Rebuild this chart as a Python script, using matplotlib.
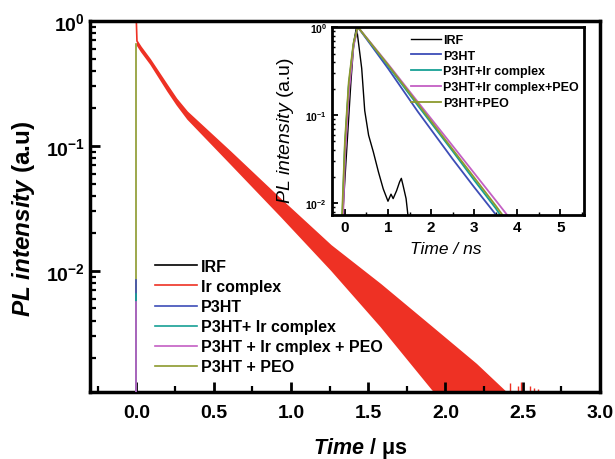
import numpy as np
import matplotlib
matplotlib.use('Agg')
import matplotlib.pyplot as plt
from matplotlib.ticker import FixedLocator, MultipleLocator, LogLocator, NullFormatter, FuncFormatter

plt.rcParams['font.family'] = ['Liberation Sans', 'DejaVu Sans']
plt.rcParams['mathtext.fontset'] = 'custom'
plt.rcParams['mathtext.rm'] = 'Liberation Sans'
plt.rcParams['mathtext.it'] = 'Liberation Sans:italic'
plt.rcParams['mathtext.bf'] = 'Liberation Sans:bold'
plt.rcParams['mathtext.bfit'] = 'Liberation Sans:bold:italic'

# main panel: Ir complex decay (us), read as upper / lower edge of the noisy band (log10)
redTime = [0.0, 0.004, 0.03, 0.09, 0.2, 0.26, 0.33, 0.61, 0.935, 1.26, 1.58, 1.91, 2.2, 2.5]
redUpperLog = [0.0, -0.16, -0.21, -0.31, -0.515, -0.625, -0.73, -1.05, -1.43, -1.80, -2.11, -2.45, -2.75, -3.1]
redLowerLog = [-0.02, -0.20, -0.25, -0.35, -0.565, -0.675, -0.79, -1.15, -1.57, -2.00, -2.45, -2.95, -3.35, -3.7]
# isolated spikes in the tail
redSpikeTime = [2.42, 2.47, 2.49, 2.55, 2.57, 2.6]
redSpikeLog = [-2.90, -2.92, -2.89, -2.92, -2.94, -2.95]

# the other samples decay within ns, so on the us scale they are vertical lines at t=0
seriesLabels = ['IRF', 'P3HT', 'P3HT+ Ir complex', 'P3HT + Ir cmplex + PEO', 'P3HT + PEO']
seriesColors = ['black', '#3d4db7', '#17a095', '#c45fc4', '#8c9a2d']
spikeTop = [1.5e-3, 8.5e-3, 6.5e-3, 5.6e-3, 0.65]
redColor = '#ee3124'

# inset (ns)
irfTime = [-0.07, 0.02, 0.14, 0.21, 0.27, 0.39, 0.46, 0.55, 0.66, 0.78, 0.89, 1.0, 1.07, 1.12, 1.2, 1.27, 1.31, 1.35, 1.42, 1.5]
irfLog = [-2.3, -1.57, -0.62, -0.16, 0.0, -0.47, -0.95, -1.23, -1.42, -1.65, -1.84, -1.98, -1.90, -1.95, -1.86, -1.76, -1.72, -1.80, -1.95, -2.3]
insetTime = [-0.07, 0.0, 0.09, 0.2, 0.3, 1.0, 1.69, 2.5, 3.0, 3.5, 3.9]
insetLabels = ['P3HT', 'P3HT+Ir complex', 'P3HT+Ir complex+PEO', 'P3HT+PEO']
insetLogs = [
    [-2.4, -1.4, -0.68, -0.2, 0.0, -0.47, -0.96, -1.50, -1.82, -2.13, -2.45],
    [-2.3, -1.35, -0.66, -0.2, 0.0, -0.44, -0.89, -1.41, -1.74, -2.06, -2.35],
    [-2.6, -1.5, -0.75, -0.22, 0.0, -0.42, -0.85, -1.35, -1.66, -1.97, -2.22],
    [-2.2, -1.3, -0.62, -0.18, 0.0, -0.43, -0.87, -1.39, -1.71, -2.03, -2.30],
]
insetColors = ['#3d4db7', '#17a095', '#c45fc4', '#8c9a2d']


def boldPow(val, pos):
    return r'$\mathbf{10^{%d}}$' % int(round(np.log10(val)))


def styleAxes(ax, spineWidth, majLen, minLen, tickWidth):
    for s in ax.spines.values():
        s.set_linewidth(spineWidth)
    ax.tick_params(which='major', direction='in', length=majLen, width=tickWidth, top=False, right=False)
    ax.tick_params(which='minor', direction='in', length=minLen, width=tickWidth * 0.8, top=False, right=False)


fig = plt.figure(figsize=(6.15, 4.6), dpi=100)
ax = fig.add_axes([0.1463, 0.1457, 0.8293, 0.8065])

# main panel
yBottom = 10 ** -2.97
ax.plot([0, 0], [yBottom, spikeTop[0]], color=seriesColors[0], lw=1.2, label=seriesLabels[0])
ax.plot(redTime, np.power(10.0, redUpperLog), color=redColor, lw=1.2, label='Ir complex')
ax.fill_between(redTime, np.power(10.0, redUpperLog), np.power(10.0, redLowerLog), color=redColor, lw=0)
ax.vlines(redSpikeTime, yBottom, np.power(10.0, redSpikeLog), color=redColor, lw=1.0)
for lab, col, top in zip(seriesLabels[1:], seriesColors[1:], spikeTop[1:]):
    ax.plot([0, 0], [yBottom, top], color=col, lw=1.2, label=lab, zorder=3 if lab != 'P3HT + PEO' else 2)

ax.set_yscale('log')
ax.set_xlim(-0.3, 3.0)
ax.set_ylim(yBottom, 1.0)
ax.xaxis.set_major_locator(FixedLocator([0.0, 0.5, 1.0, 1.5, 2.0, 2.5, 3.0]))
ax.xaxis.set_minor_locator(MultipleLocator(0.25))
ax.xaxis.set_major_formatter(FuncFormatter(lambda v, p: '%.1f' % v))
ax.yaxis.set_major_locator(FixedLocator([1e-2, 1e-1, 1.0]))
ax.yaxis.set_minor_locator(LogLocator(base=10, subs=np.arange(2, 10)))
ax.yaxis.set_major_formatter(FuncFormatter(boldPow))
ax.yaxis.set_minor_formatter(NullFormatter())
styleAxes(ax, 2.5, 7, 4, 2)
for t in ax.get_xticklabels() + ax.get_yticklabels():
    t.set_fontweight('bold')
    t.set_fontsize(14)
ax.tick_params(axis='x', pad=9)
ax.set_ylabel(r'$\mathbfit{PL\ intensity}$ (a.u)', fontsize=17.5, fontweight='bold')
ax.yaxis.set_label_coords(-0.104, 0.47)
ax.set_xlabel(r'$\mathbfit{Time}$ / μs', fontsize=15.5, fontweight='bold')
ax.xaxis.set_label_coords(0.53, -0.115)

ax.legend(loc='lower left', bbox_to_anchor=(0.115, 0.03), frameon=False,
          prop={'weight': 'bold', 'size': 11.5}, handlelength=2.6, handletextpad=0.3,
          labelspacing=0.32, borderaxespad=0)

# inset panel
ins = fig.add_axes([0.5398, 0.5304, 0.4098, 0.4087])
ins.plot(irfTime, np.power(10.0, irfLog), color='black', lw=1.0, label='IRF')
for lab, col, logs in zip(insetLabels, insetColors, insetLogs):
    ins.plot(insetTime, np.power(10.0, logs), color=col, lw=1.3, label=lab)
ins.set_yscale('log')
ins.set_xlim(-0.3, 5.55)
ins.set_ylim(0.0073, 1.0)
ins.xaxis.set_major_locator(MultipleLocator(1))
ins.xaxis.set_minor_locator(MultipleLocator(0.5))
ins.yaxis.set_major_locator(FixedLocator([1e-2, 1e-1, 1.0]))
ins.yaxis.set_minor_locator(LogLocator(base=10, subs=np.arange(2, 10)))
ins.yaxis.set_major_formatter(FuncFormatter(boldPow))
ins.yaxis.set_minor_formatter(NullFormatter())
styleAxes(ins, 2, 4, 2.5, 1.3)
for t in ins.get_xticklabels():
    t.set_fontweight('bold')
    t.set_fontsize(11)
for t in ins.get_yticklabels():
    t.set_fontsize(7.5)
ins.set_xlabel('Time / ns', fontsize=12.5, style='italic')
ins.xaxis.set_label_coords(0.452, -0.14)
ins.set_ylabel(r'$\mathit{PL\ intensity}$ (a.u)', fontsize=14)
ins.yaxis.set_label_coords(-0.143, 0.457)
ins.legend(loc='upper right', bbox_to_anchor=(1.0, 0.99), frameon=False,
           prop={'weight': 'bold', 'size': 9}, handlelength=2.4, handletextpad=0.15,
           labelspacing=0.3, borderaxespad=0)

fig.savefig('out.png', dpi=100)
